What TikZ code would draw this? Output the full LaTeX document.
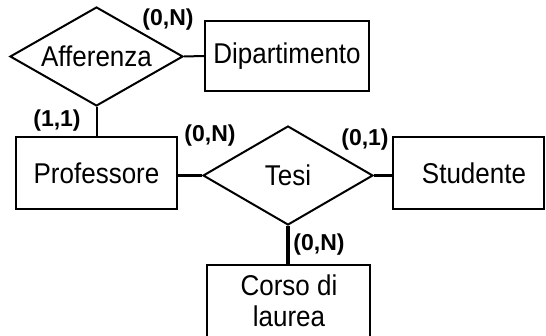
\documentclass[tikz,border=0pt]{standalone}
\usepackage{fontspec}
\usepackage{graphicx}
\setmainfont{Liberation Sans}
\usetikzlibrary{shapes.geometric}
\newcommand{\tallname}[1]{\scalebox{1}[1.1]{#1}}
\begin{document}
\begin{tikzpicture}[x=1pt,y=-1pt,
  entity/.style={draw,line width=2pt,rectangle,inner sep=0pt,font=\fontsize{26}{29}\selectfont},
  relation/.style={draw,line width=2pt,diamond,inner sep=0pt,aspect=1.72,font=\fontsize{26}{29}\selectfont},
  card/.style={font=\fontsize{23}{25}\selectfont\bfseries,inner sep=0pt},
  link/.style={line width=2pt},
  thicklink/.style={line width=3.5pt}]
\useasboundingbox (0,0) rectangle (546,336);
\node[relation,minimum width=173pt,minimum height=99pt] (aff) at (96.5,56.5) {\tallname{Afferenza}};
\node[entity,minimum width=164pt,minimum height=70pt] (dip) at (287,56) {\tallname{Dipartimento}};
\node[entity,minimum width=161pt,minimum height=72pt] (prof) at (96.5,173) {\tallname{Professore}};
\node[relation,minimum width=170pt,minimum height=99pt] (tesi) at (288,175.5) {\tallname{Tesi}};
\node[entity,minimum width=151pt,minimum height=72pt,text width=151pt,align=center] (stud) at (468.5,173) {\hspace*{11pt}\tallname{Studente}};
\node[entity,minimum width=163pt,minimum height=80pt] (corso) at (288.5,305) {};
\node[inner sep=0pt,font=\fontsize{26}{28}\selectfont] (corsotxt) at (289,304.5) {\tallname{\begin{tabular}{@{}c@{}}Corso di\\laurea\end{tabular}}};
\draw[link] (aff.east) -- (dip.west);
\draw[link] (aff.south) -- (prof.north);
\draw[thicklink] (tesi.west) -- (tesi.west -| prof.east);
\draw[thicklink] (tesi.east) -- (tesi.east -| stud.west);
\draw[thicklink] (tesi.south) -- (tesi.south |- corso.north);
\node[card] (c1) at (168,20) {(0,N)};
\node[card] (c2) at (57,121) {(1,1)};
\node[card] (c3) at (210,136) {(0,N)};
\node[card] (c4) at (365,140) {(0,1)};
\node[card] (c5) at (319,245) {(0,N)};
\end{tikzpicture}
\end{document}
